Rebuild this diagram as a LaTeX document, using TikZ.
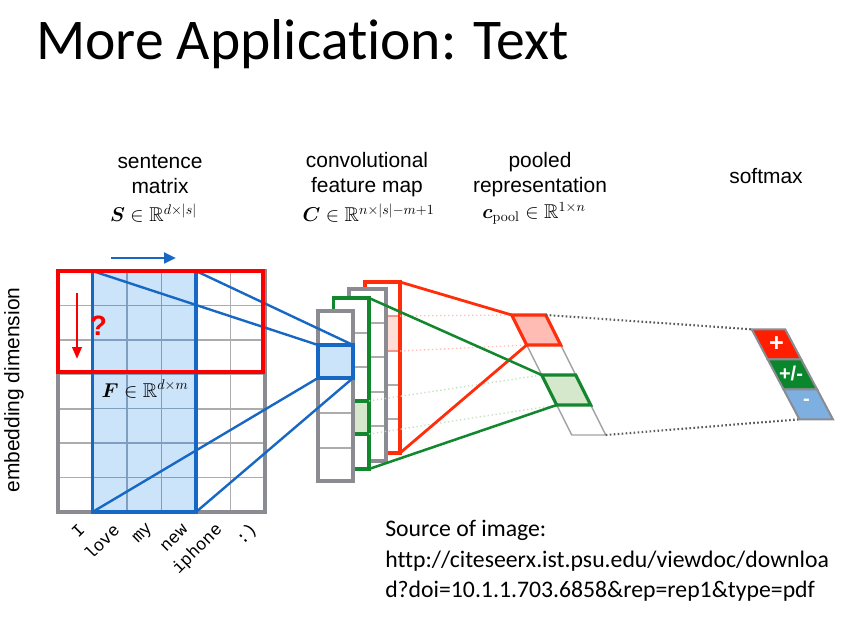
\RequirePackage{fix-cm}
\documentclass[tikz,border=0pt]{standalone}
\usepackage{amsmath,amssymb,bm}
\usepackage[no-math]{fontspec}
\newfontfamily\calibfont[Ligatures={NoCommon}]{Carlito}
\newfontfamily\helvfont{Liberation Sans}
\newfontfamily\courfont{Liberation Mono}
\usetikzlibrary{arrows.meta}

\definecolor{sred}{RGB}{250,0,0}
\definecolor{cred}{RGB}{255,45,10}
\definecolor{pinkfill}{RGB}{255,188,180}
\definecolor{pinklight}{RGB}{255,222,216}
\definecolor{pinkedge}{RGB}{240,150,140}
\definecolor{cgreen}{RGB}{18,135,45}
\definecolor{greenfill}{RGB}{213,232,203}
\definecolor{cblue}{RGB}{22,104,196}
\definecolor{bluefill}{RGB}{204,228,250}
\definecolor{gborder}{RGB}{138,140,145}
\definecolor{gline}{RGB}{172,172,175}
\definecolor{bline}{RGB}{128,158,192}
\definecolor{dotgrey}{RGB}{90,90,90}
\definecolor{smred}{RGB}{255,30,0}
\definecolor{smgreen}{RGB}{10,135,45}
\definecolor{smblue}{RGB}{125,175,225}

\begin{document}
\begin{tikzpicture}[x=0.75pt,y=-0.75pt,
  label/.style={font=\helvfont\fontsize{15.7}{18.8}\selectfont, align=center, inner sep=0pt},
  mathlabel/.style={font=\fontsize{15}{18}\selectfont, inner sep=0pt},
  word/.style={font=\courfont\fontsize{13}{15}\selectfont, rotate=45, anchor=east, inner sep=0pt},
  gridline/.style={draw=gline, line width=1.2pt},
  blueline/.style={draw=bline, line width=1pt},
  outerbox/.style={draw=gborder, line width=2.6pt},
  colbox/.style={draw=gborder, fill=white, line width=2.4pt},
  sep/.style={draw=gline, line width=1.2pt},
  blueconn/.style={draw=cblue, line width=1.8pt},
  redconn/.style={draw=cred, line width=2.1pt},
  greenconn/.style={draw=cgreen, line width=1.9pt},
  pinkdots/.style={draw=pinkfill, line width=1pt, dotted},
  greendots/.style={draw=greenfill!70!cgreen!60, line width=1pt, dotted},
  greydots/.style={draw=dotgrey, line width=1.6pt, dash pattern=on 1.2pt off 1.8pt},
  poolcell/.style={draw=gborder!80, line width=1.1pt, fill=white},
  smcell/.style={draw=gborder, line width=1.5pt},
  smtext/.style={text=white, font=\helvfont\bfseries\fontsize{15}{16}\selectfont, inner sep=0pt}
]
\useasboundingbox (0,0) rectangle (855,623);

% ---------- title ----------
\node[anchor=base west, inner sep=0pt, font=\calibfont\fontsize{43.2}{48}\selectfont] (title) at (36,60) {More Application: Text};

% ---------- column headings ----------
\node[label] (hsent) at (160,174.5) {sentence\\matrix};
\node[mathlabel] (msent) at (153.5,213) {$\bm{S}\in\mathbb{R}^{d\times|s|}$};
\node[label] (hconv) at (367,174.5) {convolutional\\feature map};
\node[mathlabel] (mconv) at (368.5,213) {$\bm{C}\in\mathbb{R}^{n\times|s|-m+1}$};
\node[label] (hpool) at (540,174.5) {pooled\\representation};
\node[mathlabel] (mpool) at (534,213) {$\bm{c}_{\mathrm{pool}}\in\mathbb{R}^{1\times n}$};
\node[label] (hsoft) at (766,176) {softmax};
\node[label, rotate=90] (hemb) at (14,390) {embedding dimension};

% ---------- sentence matrix ----------
\foreach \i in {1,...,5} \draw[gridline] (58+34.5*\i,271) -- ++(0,241);
\foreach \j in {1,...,6} \draw[gridline] (58,271+34.43*\j) -- ++(207,0);
\fill[bluefill] (92.5,271) rectangle (196,512);
\foreach \i in {2,3} \draw[blueline] (58+34.5*\i,271) -- ++(0,241);
\foreach \j in {1,...,6} \draw[blueline] (92.5,271+34.43*\j) -- (196,271+34.43*\j);
\draw[outerbox] (58,271) rectangle (265,512);
\coordinate (wtl) at (92.5,271);
\coordinate (wtr) at (196,271);
\coordinate (wbl) at (92.5,512);
\coordinate (wbr) at (196,512);
\draw[draw=cblue, line width=2.6pt] (wtl) rectangle (wbr);

% words
\node[word] (w1) at (82,527) {I};
\node[word] (w2) at (116.5,527) {love};
\node[word] (w3) at (151,527) {my};
\node[word] (w4) at (185.5,527) {new};
\node[word] (w5) at (220,527) {iphone};
\node[word] (w6) at (254.5,527) {:)};

% ---------- convolutional feature map ----------
% back column (red)
\draw[fill=white, draw=none] (365,282) rectangle (400,453);
\foreach \y in {385,419} \draw[sep] (365,\y) -- (400,\y);
\draw[fill=pinklight, draw=pinkedge, line width=1.4pt] (365,316) rectangle (400,351);
\draw[draw=cred, line width=2.8pt] (365,282) rectangle (400,453);
\coordinate (rtr) at (400,282);
\coordinate (rbr) at (400,453);
\coordinate (rct) at (400,316);
\coordinate (rcb) at (400,351);
% third column (grey)
\draw[colbox] (349,289) rectangle (386,461);
\foreach \y in {323,357,392,426} \draw[sep] (349,\y) -- (386,\y);
\draw[draw=gborder, line width=2.4pt] (349,289) rectangle (386,461);
% second column (green)
\fill[white] (333.5,298) rectangle (369,469);
\foreach \y in {333,367} \draw[sep] (333.5,\y) -- (369,\y);
\draw[fill=greenfill, draw=cgreen, line width=2.4pt] (333.5,401) rectangle (369,434);
\draw[draw=cgreen, line width=2.6pt] (333.5,298) rectangle (369,469);
\coordinate (gtr) at (369,298);
\coordinate (gbr) at (369,469);
\coordinate (gct) at (369,401);
\coordinate (gcb) at (369,434);
% front column (grey)
\draw[colbox] (318,311) rectangle (353,481);
\foreach \y in {413,448} \draw[sep] (318,\y) -- (353,\y);
\draw[draw=gborder, line width=2.8pt] (318,311) rectangle (353,481);
\coordinate (ftl) at (318,345);
\coordinate (ftr) at (353,345);
\coordinate (fbl) at (318,378);
\coordinate (fbr) at (353,378);
\draw[fill=bluefill, draw=cblue, line width=2.8pt] (ftl) rectangle (fbr);

% filter window to feature
\draw[blueconn] (wtl) -- (ftl);
\draw[blueconn] (wtr) -- (ftr);
\draw[blueconn] (wbl) -- (fbl);
\draw[blueconn] (wbr) -- (fbr);

% red window and arrows
\draw[draw=sred, line width=3pt] (58,271) rectangle (262.5,372);
\draw[cblue, line width=2pt, -{Triangle[length=9pt,width=8pt]}] (111,258) coordinate (ba0) -- (176,258) coordinate (ba1);
\draw[sred, line width=2pt, -{Triangle[length=9pt,width=7pt]}] (77,293) coordinate (ra0) -- (77,359) coordinate (ra1);
\node[text=sred, font=\helvfont\bfseries\fontsize{21}{22}\selectfont, inner sep=0pt] (qm) at (98.5,326) {?};
\node[mathlabel] (mfilt) at (145,389) {$\bm{F}\in\mathbb{R}^{d\times m}$};

% ---------- pooled representation ----------
\foreach \i in {0,...,4} {
  \coordinate (pl\i) at (511.7+15*\i,315+30*\i);
  \coordinate (pr\i) at (545.7+15*\i,315+30*\i);
}
\draw[poolcell] (pl1) -- (pr1) -- (pr2) -- (pl2) -- cycle;
\draw[poolcell] (pl3) -- (pr3) -- (pr4) -- (pl4) -- cycle;

% dotted projections
\draw[pinkdots] (rct) -- (pl0);
\draw[pinkdots] (rcb) -- (pl1);
\draw[greendots] (gct) -- (pl2);
\draw[greendots] (gcb) -- (pl3);

% max-pooling connectors
\draw[redconn] (rtr) -- (pl0);
\draw[redconn] (rbr) -- (pl1);
\draw[greenconn] (gtr) -- (pl2);
\draw[greenconn] (gbr) -- (pl3);

\draw[fill=pinkfill, draw=cred, line width=2.4pt] (pl0) -- (pr0) -- (pr1) -- (pl1) -- cycle;
\draw[fill=greenfill, draw=cgreen, line width=2.4pt] (pl2) -- (pr2) -- (pr3) -- (pl3) -- cycle;

% ---------- softmax ----------
\foreach \i in {0,...,3} {
  \coordinate (sl\i) at (751.7+15.9*\i,329.3+30*\i);
  \coordinate (sr\i) at (785.2+15.9*\i,329.3+30*\i);
}
\draw[greydots] (pr0) -- (sl0);
\draw[greydots] (pr4) -- (sl3);
\draw[smcell, fill=smred] (sl0) -- (sr0) -- (sr1) -- (sl1) -- cycle;
\draw[smcell, fill=smgreen] (sl1) -- (sr1) -- (sr2) -- (sl2) -- cycle;
\draw[smcell, fill=smblue] (sl2) -- (sr2) -- (sr3) -- (sl3) -- cycle;
\node[smtext, font=\helvfont\bfseries\fontsize{19}{20}\selectfont] (splus) at (776.5,344.5) {+};
\node[smtext] (spm) at (791,373.5) {+/-};
\node[smtext] (sminus) at (806.5,402.5) {-};

% ---------- source ----------
\node[anchor=north west, align=left, inner sep=0pt, font=\calibfont\fontsize{17.8}{23}\selectfont] (src) at (385,520)
  {Source of image:\\http://citeseerx.ist.psu.edu/viewdoc/downloa\\d?doi=10.1.1.703.6858\&rep=rep1\&type=pdf};
\end{tikzpicture}
\end{document}
